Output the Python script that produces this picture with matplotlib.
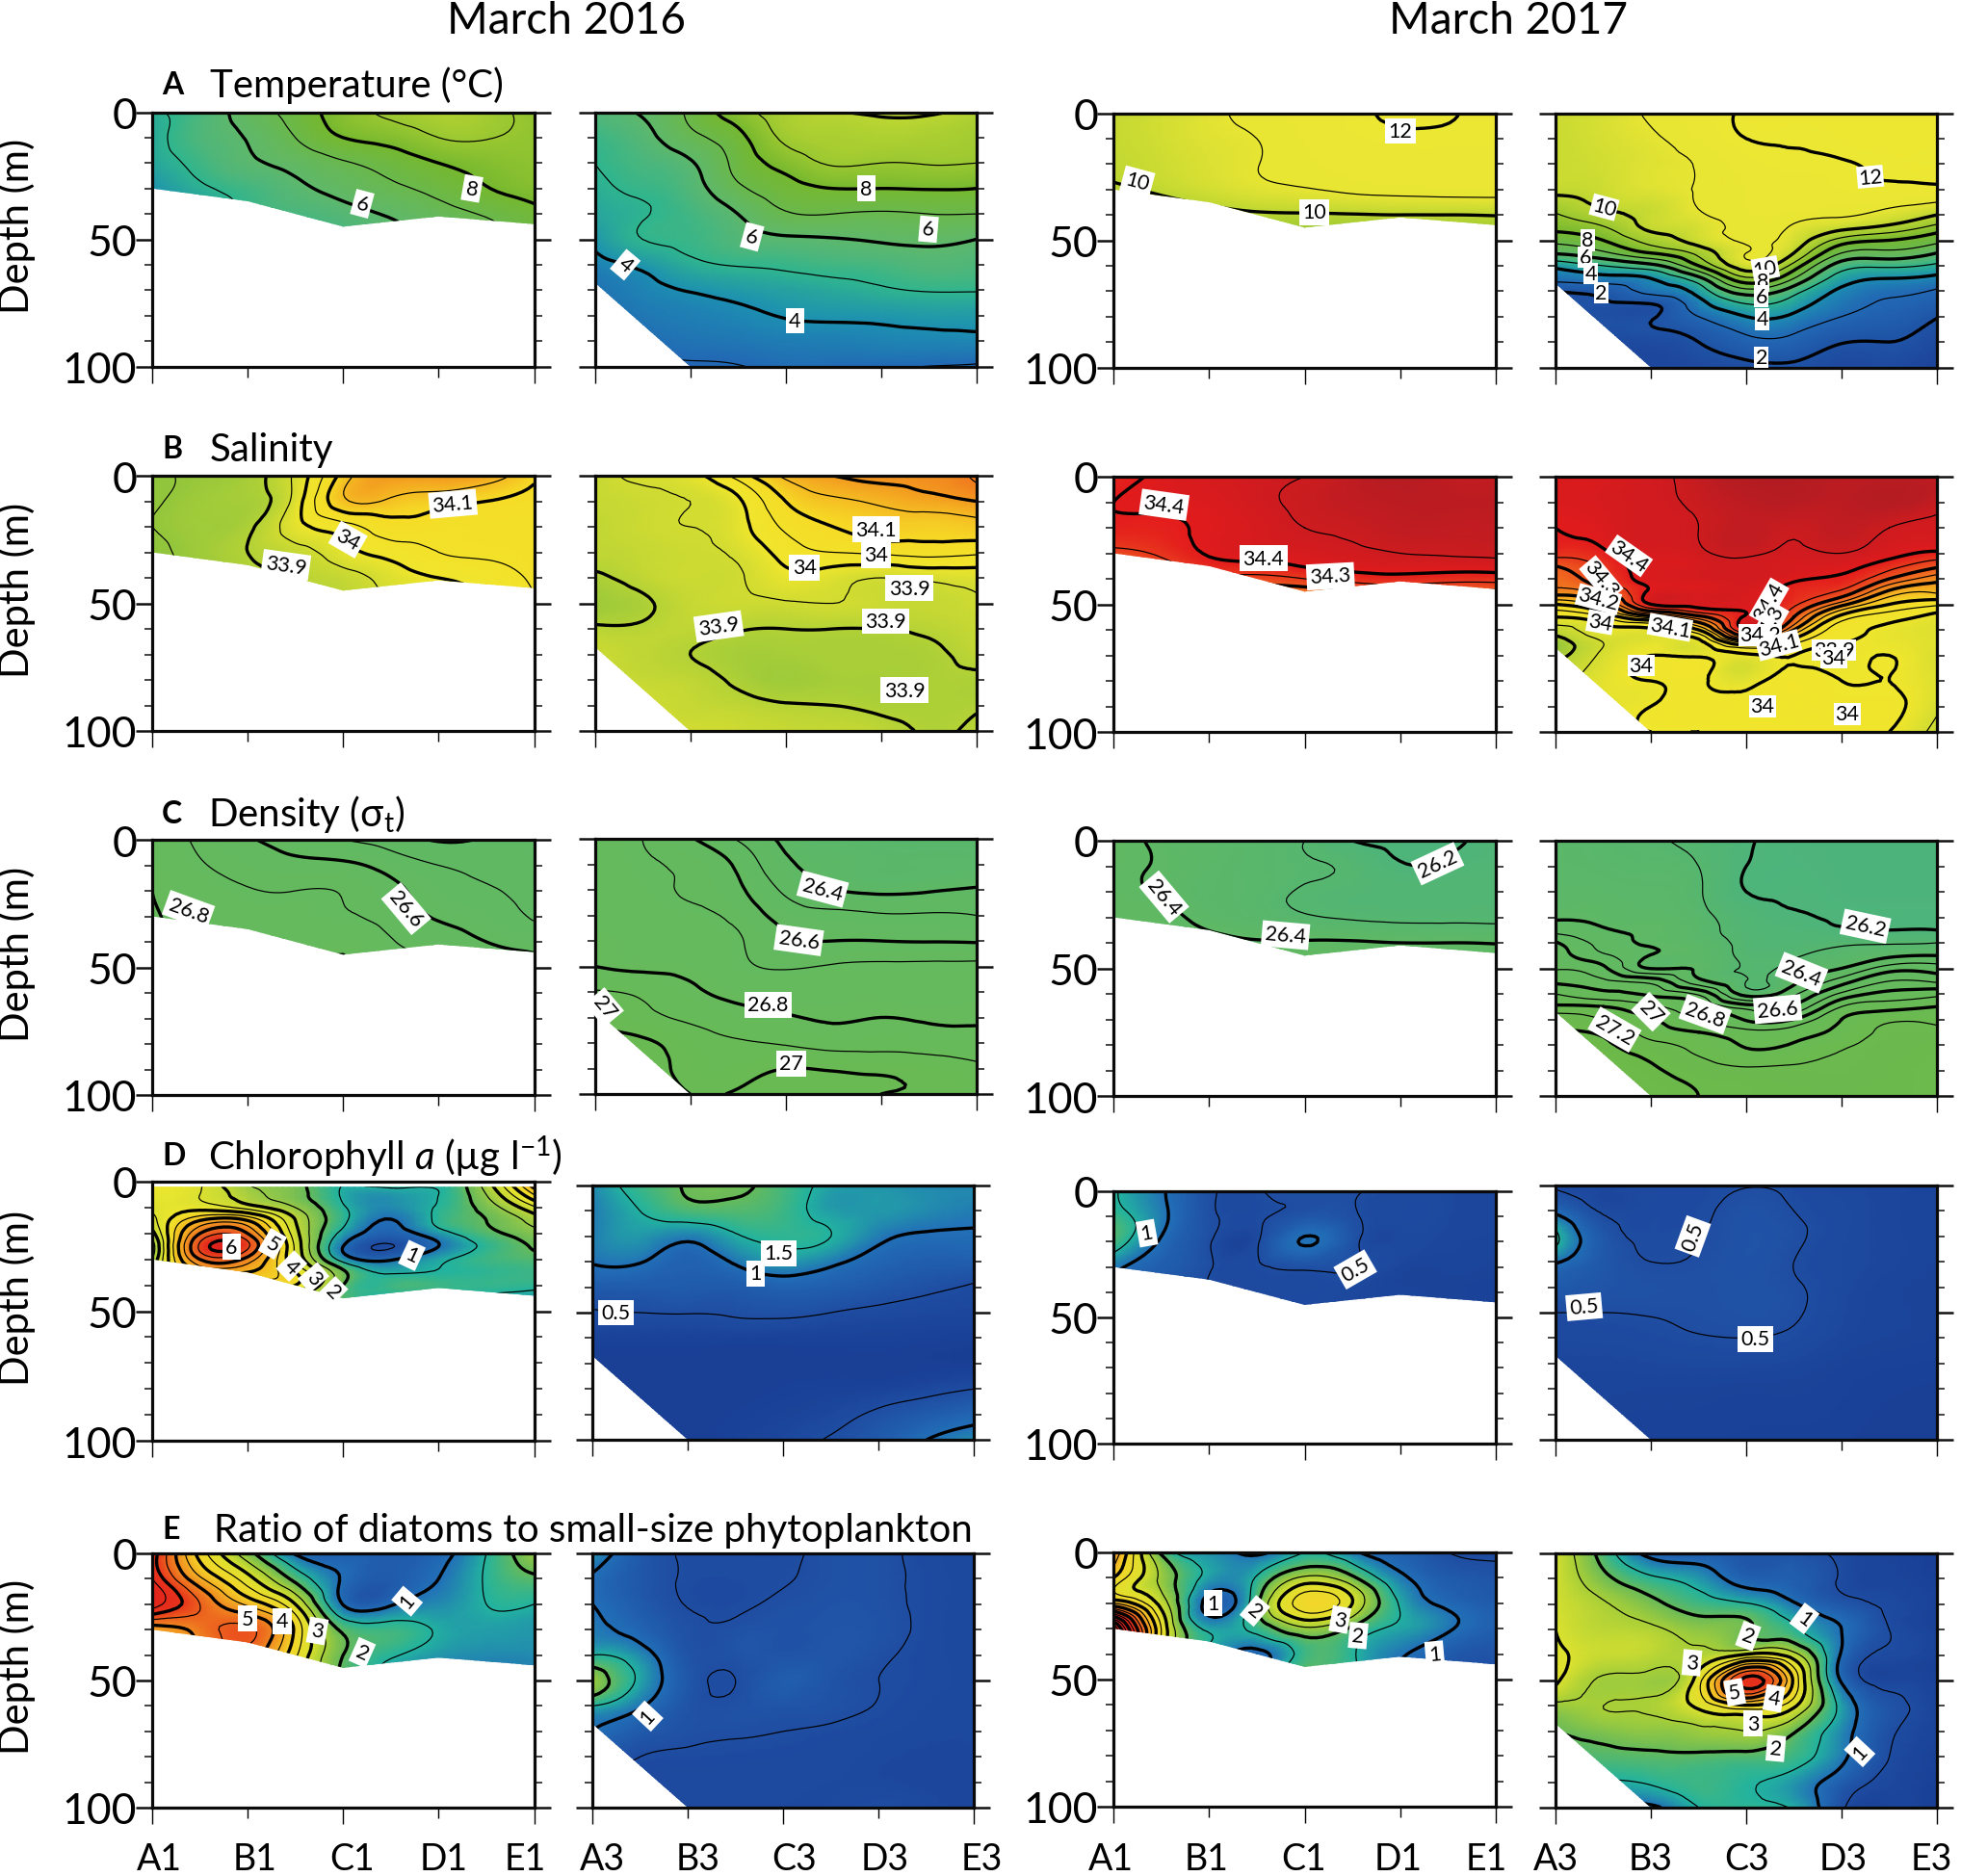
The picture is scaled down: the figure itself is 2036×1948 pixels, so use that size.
import numpy as np
import matplotlib
matplotlib.use('Agg')
from matplotlib import pyplot as plt
from matplotlib import tri as mtri
from matplotlib.colors import LinearSegmentedColormap
from matplotlib.ticker import MultipleLocator, FixedLocator, NullFormatter

plt.rcParams['font.family'] = ['Lato', 'DejaVu Sans']
plt.rcParams['mathtext.fontset'] = 'custom'
plt.rcParams['mathtext.rm'] = 'Lato'
plt.rcParams['mathtext.it'] = 'Lato:italic'
plt.rcParams['mathtext.default'] = 'regular'

W, H = 2036, 1949

stations_x = [0, 0.5, 1, 1.5, 2, 2.5, 3, 3.5, 4]
depth_shallow = [0, 10, 20, 30, 40, 50]
depth_deep = [0, 10, 20, 30, 40, 50, 60, 70, 80, 90, 100]
depth_t17 = [0, 10, 20, 30, 40, 45, 50, 55, 60, 65, 70, 75, 80, 90, 100]
depth_s17 = [0, 10, 20, 30, 35, 40, 45, 50, 55, 60, 65, 70, 80, 90, 100]
depth_d17 = [0, 10, 20, 30, 35, 40, 45, 50, 55, 60, 65, 70, 75, 80, 90, 100]
depth_c16 = [0, 5, 10, 15, 20, 25, 30, 35, 40, 45, 50]

bottom_line1 = [30, 35, 45, 41, 44]
bottom_line3 = [67, 100, 100, 100, 100]

temp_16_1 = [
    [4.9, 5.4, 6.45, 7.4, 8.5, 9.2, 9.6, 9.3, 8.8],
    [4.7, 5.5, 6.05, 7.0, 8.0, 8.4, 9.0, 9.05, 8.8],
    [4.6, 5.25, 5.85, 6.3, 6.9, 7.4, 8.0, 8.4, 8.7],
    [4.1, 4.85, 5.3, 5.8, 6.3, 6.8, 7.3, 7.95, 8.4],
    [3.5, 4.3, 5.1, 5.4, 5.7, 6.1, 6.6, 7.1, 7.7],
    [3.0, 4.0, 4.7, 5.0, 5.3, 5.7, 6.2, 6.7, 7.3],
]
temp_16_3 = [
    [5.6, 6.1, 7.2, 8.6, 9.5, 9.95, 10.1, 10.1, 9.7],
    [5.2, 5.7, 6.7, 7.7, 9.2, 9.5, 9.6, 9.5, 9.3],
    [5.0, 5.4, 5.9, 7.3, 8.4, 9.1, 9.0, 9.05, 9.0],
    [4.8, 5.15, 5.6, 6.8, 7.6, 8.0, 8.0, 8.05, 8.0],
    [4.6, 4.95, 5.3, 6.0, 6.9, 7.0, 6.9, 7.0, 7.0],
    [4.2, 5.0, 5.2, 5.6, 5.85, 5.95, 6.1, 6.2, 6.0],
    [3.7, 4.2, 4.8, 5.05, 5.15, 5.3, 5.4, 5.6, 5.5],
    [3.3, 3.7, 4.05, 4.3, 4.5, 4.7, 4.9, 5.05, 5.05],
    [3.0, 3.4, 3.6, 3.8, 4.05, 4.15, 4.2, 4.3, 4.3],
    [2.8, 3.1, 3.3, 3.4, 3.55, 3.6, 3.7, 3.75, 3.8],
    [2.6, 2.8, 2.9, 2.97, 3.15, 3.1, 3.05, 2.99, 2.9],
]
temp_17_1 = [
    [10.2, 10.5, 10.85, 11.2, 11.5, 11.8, 12.2, 12.05, 11.9],
    [10.2, 10.5, 10.8, 11.0, 11.4, 11.7, 11.85, 11.85, 11.8],
    [10.15, 10.4, 10.7, 10.98, 11.3, 11.5, 11.6, 11.6, 11.6],
    [9.85, 10.15, 10.5, 10.8, 10.95, 11.15, 11.25, 11.3, 11.3],
    [9.0, 9.3, 9.6, 9.85, 9.9, 9.95, 10.0, 10.0, 10.05],
    [8.0, 8.3, 8.5, 8.6, 8.5, 8.7, 8.8, 8.9, 9.0],
]
temp_17_3 = np.array([
    [10.4, 10.3, 10.3, 10.2, 8.9, 8.3, 7.3, 6.1, 4.3, 3.3, 2.0, 1.9, 1.8, 1.6, 1.5],
    [10.6, 10.6, 10.5, 10.4, 9.7, 8.9, 8.0, 6.8, 5.0, 3.6, 2.3, 1.9, 1.8, 1.6, 1.5],
    [11.1, 10.9, 10.8, 10.75, 10.3, 10.2, 9.4, 8.0, 5.7, 4.0, 3.3, 2.0, 1.9, 1.6, 1.4],
    [11.6, 11.4, 11.05, 11.05, 10.9, 10.6, 10.4, 9.3, 8.0, 5.7, 4.4, 3.6, 3.0, 2.0, 1.5],
    [12.1, 12.0, 11.6, 11.4, 11.3, 11.2, 11.1, 11.0, 10.6, 8.8, 6.6, 5.0, 4.0, 2.7, 1.7],
    [12.2, 12.05, 11.85, 11.6, 11.3, 10.9, 10.6, 10.0, 8.6, 7.0, 5.4, 4.5, 3.8, 2.7, 1.8],
    [12.2, 12.15, 11.95, 11.75, 11.1, 10.3, 8.6, 7.0, 5.5, 4.5, 3.8, 3.4, 3.0, 2.05, 1.5],
    [12.2, 12.2, 12.1, 11.8, 10.7, 9.7, 8.0, 6.7, 5.2, 4.0, 3.2, 2.9, 2.6, 2.0, 1.5],
    [12.2, 12.2, 12.1, 11.8, 10.0, 8.6, 7.3, 6.0, 4.8, 3.7, 2.9, 2.5, 2.05, 1.5, 1.2],
]).T

salt_16_1 = [
    [33.84, 33.86, 33.88, 33.96, 34.12, 34.2, 34.2, 34.18, 34.11],
    [33.84, 33.87, 33.88, 33.97, 34.14, 34.14, 34.12, 34.1, 34.08],
    [33.85, 33.87, 33.89, 33.98, 34.03, 34.08, 34.07, 34.07, 34.07],
    [33.83, 33.87, 33.9, 33.93, 33.98, 34.02, 34.05, 34.06, 34.07],
    [33.83, 33.86, 33.89, 33.91, 33.93, 33.97, 34.0, 34.02, 34.06],
    [33.83, 33.86, 33.88, 33.9, 33.92, 33.96, 33.99, 34.0, 34.05],
]
salt_16_3 = [
    [33.93, 33.96, 33.98, 34.07, 34.16, 34.2, 34.22, 34.22, 34.26],
    [33.93, 33.94, 33.95, 33.99, 34.1, 34.14, 34.16, 34.18, 34.2],
    [33.92, 33.94, 33.95, 33.98, 34.06, 34.1, 34.12, 34.12, 34.13],
    [33.92, 33.93, 33.94, 33.96, 34.02, 34.05, 34.06, 34.07, 34.06],
    [33.89, 33.92, 33.94, 33.945, 33.985, 33.97, 33.95, 33.96, 33.97],
    [33.87, 33.89, 33.93, 33.94, 33.945, 33.95, 33.94, 33.93, 33.945],
    [33.91, 33.91, 33.92, 33.905, 33.9, 33.9, 33.9, 33.91, 33.93],
    [33.94, 33.92, 33.9, 33.88, 33.88, 33.885, 33.885, 33.89, 33.92],
    [33.95, 33.93, 33.92, 33.89, 33.87, 33.88, 33.88, 33.89, 33.89],
    [33.96, 33.95, 33.93, 33.92, 33.905, 33.9, 33.89, 33.89, 33.895],
    [33.97, 33.96, 33.95, 33.94, 33.93, 33.93, 33.92, 33.895, 33.91],
]
salt_17_1 = [
    [34.38, 34.41, 34.43, 34.44, 34.45, 34.48, 34.51, 34.48, 34.48],
    [34.4, 34.41, 34.42, 34.44, 34.46, 34.48, 34.49, 34.49, 34.49],
    [34.39, 34.39, 34.41, 34.43, 34.45, 34.46, 34.48, 34.48, 34.48],
    [34.33, 34.36, 34.405, 34.42, 34.43, 34.44, 34.45, 34.455, 34.46],
    [34.22, 34.28, 34.33, 34.33, 34.35, 34.37, 34.38, 34.37, 34.37],
    [34.15, 34.2, 34.22, 34.2, 34.15, 34.2, 34.22, 34.2, 34.2],
]
salt_17_3 = np.array([
    [34.42, 34.42, 34.4, 34.37, 34.3, 34.27, 34.23, 34.1, 34.0, 33.93, 33.86, 33.88, 33.92, 33.95, 33.97],
    [34.42, 34.43, 34.42, 34.39, 34.36, 34.34, 34.28, 34.18, 34.05, 33.98, 33.95, 33.96, 33.98, 33.98, 33.98],
    [34.44, 34.44, 34.44, 34.43, 34.42, 34.42, 34.41, 34.4, 34.17, 33.99, 33.98, 34.0, 34.0, 34.0, 34.0],
    [34.47, 34.46, 34.45, 34.44, 34.43, 34.43, 34.42, 34.42, 34.28, 34.1, 33.98, 33.99, 34.01, 34.02, 34.0],
    [34.52, 34.49, 34.48, 34.46, 34.44, 34.44, 34.43, 34.42, 34.41, 34.4, 34.15, 33.99, 33.98, 34.01, 34.02],
    [34.52, 34.5, 34.46, 34.44, 34.43, 34.41, 34.38, 34.36, 34.3, 34.2, 34.06, 34.0, 34.02, 34.01, 34.03],
    [34.49, 34.49, 34.48, 34.45, 34.42, 34.39, 34.34, 34.22, 34.08, 34.02, 34.0, 33.99, 34.0, 34.01, 34.02],
    [34.49, 34.51, 34.45, 34.42, 34.37, 34.3, 34.19, 34.1, 34.02, 33.99, 33.99, 34.0, 34.0, 34.01, 34.0],
    [34.48, 34.47, 34.44, 34.39, 34.31, 34.22, 34.16, 34.06, 33.98, 33.97, 33.97, 33.96, 33.97, 33.96, 33.93],
]).T

dens_16_1 = [
    [26.78, 26.68, 26.61, 26.56, 26.5, 26.46, 26.39, 26.41, 26.42],
    [26.79, 26.71, 26.66, 26.63, 26.62, 26.56, 26.5, 26.47, 26.44],
    [26.8, 26.74, 26.705, 26.7, 26.695, 26.63, 26.55, 26.51, 26.47],
    [26.81, 26.76, 26.73, 26.72, 26.71, 26.66, 26.59, 26.55, 26.49],
    [26.82, 26.78, 26.76, 26.74, 26.78, 26.71, 26.65, 26.6, 26.57],
    [26.84, 26.8, 26.78, 26.76, 26.81, 26.76, 26.7, 26.65, 26.62],
]
dens_16_3 = [
    [26.72, 26.7, 26.61, 26.49, 26.38, 26.34, 26.32, 26.32, 26.32],
    [26.73, 26.71, 26.68, 26.58, 26.42, 26.37, 26.35, 26.35, 26.35],
    [26.74, 26.72, 26.69, 26.62, 26.48, 26.4, 26.38, 26.39, 26.41],
    [26.76, 26.74, 26.72, 26.67, 26.56, 26.53, 26.51, 26.51, 26.5],
    [26.78, 26.76, 26.74, 26.71, 26.62, 26.6, 26.6, 26.595, 26.59],
    [26.8, 26.78, 26.77, 26.72, 26.69, 26.71, 26.72, 26.72, 26.72],
    [26.91, 26.88, 26.82, 26.77, 26.75, 26.76, 26.76, 26.75, 26.76],
    [26.99, 26.93, 26.88, 26.84, 26.81, 26.79, 26.8, 26.79, 26.79],
    [27.05, 27.02, 26.95, 26.91, 26.89, 26.86, 26.86, 26.85, 26.84],
    [27.1, 27.05, 26.97, 26.96, 27.0, 26.99, 26.98, 26.96, 26.92],
    [27.12, 27.08, 27.0, 27.01, 27.03, 27.02, 27.0, 26.99, 26.96],
]
dens_17_1 = [
    [26.45, 26.38, 26.36, 26.33, 26.3, 26.2, 26.18, 26.18, 26.23],
    [26.44, 26.39, 26.36, 26.33, 26.31, 26.28, 26.21, 26.22, 26.24],
    [26.43, 26.39, 26.35, 26.33, 26.29, 26.27, 26.26, 26.26, 26.26],
    [26.5, 26.44, 26.37, 26.34, 26.31, 26.29, 26.28, 26.28, 26.28],
    [26.52, 26.47, 26.43, 26.41, 26.41, 26.41, 26.4, 26.4, 26.395],
    [26.55, 26.52, 26.5, 26.49, 26.48, 26.47, 26.46, 26.46, 26.46],
]
dens_17_3 = np.array([
    [26.35, 26.35, 26.36, 26.39, 26.46, 26.61, 26.65, 26.69, 26.78, 26.9, 27.02, 27.15, 27.22, 27.25, 27.28, 27.3],
    [26.33, 26.34, 26.36, 26.38, 26.41, 26.46, 26.52, 26.62, 26.72, 26.83, 27.0, 27.1, 27.18, 27.22, 27.27, 27.3],
    [26.31, 26.33, 26.35, 26.37, 26.39, 26.39, 26.395, 26.395, 26.66, 26.78, 26.92, 27.01, 27.06, 27.13, 27.22, 27.27],
    [26.27, 26.3, 26.31, 26.33, 26.34, 26.36, 26.37, 26.385, 26.43, 26.68, 26.8, 26.9, 27.0, 27.07, 27.15, 27.2],
    [26.21, 26.2, 26.2, 26.25, 26.26, 26.27, 26.28, 26.29, 26.3, 26.36, 26.65, 26.79, 26.93, 26.99, 27.12, 27.17],
    [26.17, 26.18, 26.19, 26.21, 26.23, 26.25, 26.29, 26.33, 26.38, 26.48, 26.62, 26.8, 26.95, 27.01, 27.12, 27.16],
    [26.16, 26.16, 26.17, 26.19, 26.21, 26.28, 26.33, 26.4, 26.55, 26.72, 26.9, 27.0, 27.03, 27.08, 27.12, 27.16],
    [26.15, 26.15, 26.16, 26.18, 26.2, 26.29, 26.38, 26.55, 26.7, 26.83, 26.96, 27.08, 27.12, 27.13, 27.15, 27.16],
    [26.15, 26.15, 26.16, 26.18, 26.2, 26.3, 26.4, 26.55, 26.68, 26.87, 27.0, 27.08, 27.12, 27.16, 27.17, 27.18],
]).T

chl_16_1 = [
    [4.0, 3.6, 2.4, 2.1, 1.5, 1.8, 1.6, 2.8, 5.5],
    [3.8, 3.5, 2.7, 2.2, 1.45, 1.3, 1.5, 2.5, 4.5],
    [3.6, 3.8, 3.3, 2.5, 1.55, 1.2, 1.55, 2.2, 3.4],
    [3.3, 5.0, 5.0, 3.0, 1.6, 0.98, 1.6, 2.0, 2.7],
    [2.8, 6.0, 6.0, 3.2, 1.35, 0.8, 1.3, 1.85, 2.3],
    [2.2, 6.6, 6.6, 3.4, 1.0, 0.48, 1.0, 1.6, 2.05],
    [2.5, 6.0, 5.8, 3.5, 1.3, 0.95, 1.4, 1.7, 1.85],
    [3.0, 4.9, 5.0, 4.0, 2.1, 1.45, 1.52, 1.6, 1.7],
    [3.0, 3.5, 4.0, 4.0, 2.0, 1.7, 1.7, 1.65, 1.6],
    [3.0, 3.5, 3.5, 3.0, 1.9, 1.45, 1.45, 1.4, 1.35],
    [3.0, 3.5, 3.5, 3.0, 1.9, 1.45, 1.45, 1.4, 1.35],
]
chl_16_3 = [
    [1.2, 1.7, 2.05, 2.1, 1.75, 1.4, 1.3, 1.2, 1.2],
    [1.1, 1.5, 1.8, 1.85, 1.7, 1.35, 1.3, 1.2, 1.1],
    [1.1, 1.3, 1.12, 1.45, 1.6, 1.5, 1.1, 0.95, 0.95],
    [1.02, 1.02, 0.8, 1.05, 1.3, 1.1, 0.85, 0.75, 0.75],
    [0.7, 0.7, 0.7, 0.7, 0.8, 0.75, 0.65, 0.55, 0.47],
    [0.48, 0.5, 0.51, 0.53, 0.55, 0.5, 0.45, 0.42, 0.4],
    [0.35, 0.35, 0.35, 0.35, 0.35, 0.35, 0.35, 0.33, 0.32],
    [0.3, 0.3, 0.3, 0.3, 0.3, 0.3, 0.3, 0.3, 0.3],
    [0.3, 0.3, 0.3, 0.3, 0.32, 0.34, 0.36, 0.42, 0.5],
    [0.3, 0.3, 0.3, 0.32, 0.36, 0.42, 0.55, 0.7, 0.85],
    [0.3, 0.3, 0.3, 0.34, 0.42, 0.52, 0.7, 1.0, 1.2],
]
chl_17_1 = [
    [1.55, 1.05, 0.55, 0.48, 0.55, 0.52, 0.45, 0.42, 0.4],
    [1.7, 1.1, 0.55, 0.47, 0.62, 0.53, 0.45, 0.42, 0.4],
    [1.8, 0.95, 0.52, 0.47, 1.03, 0.58, 0.42, 0.4, 0.38],
    [1.1, 0.75, 0.52, 0.47, 0.55, 0.52, 0.4, 0.38, 0.36],
    [1.0, 0.7, 0.5, 0.45, 0.45, 0.42, 0.38, 0.36, 0.35],
    [1.0, 0.7, 0.5, 0.42, 0.4, 0.4, 0.38, 0.36, 0.35],
]
chl_17_3 = [
    [0.45, 0.45, 0.45, 0.46, 0.49, 0.47, 0.42, 0.4, 0.38],
    [0.9, 0.47, 0.46, 0.47, 0.56, 0.5, 0.44, 0.4, 0.38],
    [1.6, 0.65, 0.47, 0.49, 0.58, 0.53, 0.44, 0.4, 0.38],
    [1.05, 0.65, 0.5, 0.52, 0.58, 0.5, 0.43, 0.4, 0.37],
    [0.7, 0.6, 0.55, 0.54, 0.56, 0.52, 0.43, 0.38, 0.36],
    [0.5, 0.5, 0.51, 0.53, 0.55, 0.52, 0.42, 0.38, 0.36],
    [0.43, 0.44, 0.46, 0.49, 0.5, 0.47, 0.4, 0.37, 0.35],
    [0.4, 0.4, 0.41, 0.42, 0.42, 0.4, 0.36, 0.34, 0.33],
    [0.38, 0.38, 0.37, 0.37, 0.36, 0.36, 0.34, 0.32, 0.31],
    [0.36, 0.36, 0.35, 0.35, 0.34, 0.34, 0.33, 0.31, 0.3],
    [0.35, 0.35, 0.34, 0.34, 0.33, 0.33, 0.32, 0.3, 0.3],
]

ratio_16_1 = [
    [6.3, 3.8, 2.2, 0.95, 0.75, 0.7, 0.85, 1.5, 2.4],
    [6.5, 4.6, 3.2, 1.85, 0.95, 0.7, 1.0, 1.55, 1.9],
    [6.8, 5.5, 4.4, 3.0, 0.98, 0.95, 1.2, 1.5, 1.5],
    [4.7, 5.2, 5.6, 3.9, 1.9, 1.7, 1.45, 1.35, 1.3],
    [4.4, 5.0, 5.3, 3.6, 2.0, 1.55, 1.3, 1.2, 1.2],
    [3.8, 4.5, 5.0, 3.2, 1.9, 1.4, 1.2, 1.1, 1.1],
]
ratio_16_3 = [
    [1.3, 0.7, 0.48, 0.47, 0.47, 0.55, 0.55, 0.45, 0.42],
    [0.95, 0.65, 0.48, 0.47, 0.49, 0.55, 0.55, 0.46, 0.42],
    [1.0, 0.7, 0.49, 0.47, 0.53, 0.58, 0.56, 0.46, 0.42],
    [1.1, 0.85, 0.55, 0.55, 0.58, 0.6, 0.58, 0.46, 0.42],
    [1.5, 1.2, 0.6, 0.58, 0.6, 0.62, 0.54, 0.45, 0.42],
    [2.4, 1.4, 0.65, 0.5, 0.72, 0.6, 0.5, 0.45, 0.42],
    [1.5, 1.05, 0.6, 0.55, 0.6, 0.56, 0.49, 0.43, 0.42],
    [1.0, 0.7, 0.55, 0.52, 0.5, 0.47, 0.44, 0.42, 0.42],
    [0.7, 0.5, 0.47, 0.46, 0.45, 0.44, 0.42, 0.4, 0.4],
    [0.5, 0.45, 0.44, 0.44, 0.44, 0.43, 0.42, 0.4, 0.4],
    [0.45, 0.44, 0.43, 0.43, 0.43, 0.44, 0.5, 0.44, 0.4],
]
ratio_17_1 = [
    [5.0, 1.9, 1.25, 0.9, 1.5, 1.1, 0.8, 0.5, 0.45],
    [4.0, 2.4, 1.35, 1.55, 2.6, 2.1, 1.1, 0.7, 0.6],
    [4.5, 2.8, 0.85, 1.9, 3.8, 3.0, 1.45, 0.9, 0.7],
    [9.0, 3.5, 1.4, 1.65, 2.4, 1.9, 1.4, 1.05, 0.75],
    [9.0, 3.0, 1.3, 0.85, 1.7, 1.55, 1.05, 0.7, 0.6],
    [8.0, 2.5, 1.1, 0.7, 2.5, 1.4, 0.95, 0.65, 0.55],
]
ratio_17_3 = [
    [2.9, 1.8, 0.85, 0.7, 0.65, 0.6, 0.45, 0.35, 0.3],
    [2.9, 2.15, 1.6, 1.3, 0.8, 0.75, 0.47, 0.38, 0.32],
    [2.9, 2.55, 2.15, 1.75, 1.55, 1.05, 0.65, 0.45, 0.35],
    [3.0, 2.7, 2.6, 2.3, 2.05, 1.6, 1.0, 0.5, 0.35],
    [3.1, 2.8, 2.7, 2.6, 3.1, 2.7, 0.95, 0.45, 0.35],
    [3.1, 2.45, 2.4, 3.3, 6.2, 3.9, 0.95, 0.4, 0.35],
    [2.4, 2.5, 2.55, 3.1, 3.9, 3.1, 1.35, 0.6, 0.38],
    [2.0, 2.2, 2.3, 2.4, 2.5, 2.05, 1.2, 0.55, 0.38],
    [1.8, 1.85, 1.9, 1.9, 1.85, 1.7, 1.1, 0.5, 0.35],
    [1.3, 1.45, 1.55, 1.7, 1.55, 1.3, 0.75, 0.42, 0.32],
    [0.9, 0.95, 0.9, 1.5, 1.6, 1.45, 0.55, 0.38, 0.3],
]

# contour labels: text, x, depth, rotation
lab_temp = [
    [('6', 2.2, 36, -15), ('8', 3.35, 30, -10)],
    [('8', 2.85, 30, 0), ('6', 1.65, 49, -15), ('6', 3.5, 46, -5), ('4', 0.32, 60, -40), ('4', 2.1, 82, 0)],
    [('12', 3.0, 7, 0), ('10', 0.25, 27, -15), ('10', 2.1, 39, 0)],
    [('12', 3.3, 25, 5), ('10', 0.51, 37, -15), ('8', 0.34, 50, 0), ('6', 0.31, 56.6, 0), ('4', 0.37, 63, 0),
     ('2', 0.48, 70.7, 0), ('10', 2.2, 61, 10), ('8', 2.17, 66, 0), ('6', 2.16, 72, 0), ('4', 2.17, 81, 0),
     ('2', 2.16, 96, 0)],
]
lab_salt = [
    [('34.1', 3.15, 11, 5), ('34', 2.05, 25, -30), ('33.9', 1.4, 35, -8)],
    [('34.1', 2.95, 21, 0), ('34', 2.95, 31, 0), ('34', 2.2, 36, 0), ('33.9', 3.3, 44, 0), ('33.9', 3.05, 57, 0),
     ('33.9', 1.3, 59, 8), ('33.9', 3.25, 84, 0)],
    [('34.4', 0.53, 11, -8), ('34.4', 1.57, 32, 0), ('34.3', 2.27, 39, 3)],
    [('34.4', 0.77, 31, -35), ('34.3', 0.48, 40, -50), ('34.2', 0.45, 48, -15), ('34', 0.47, 57, -10),
     ('34.1', 1.2, 59, -10), ('34.4', 2.24, 49, 60), ('34.3', 2.24, 58, 60), ('34.2', 2.15, 62, 0),
     ('34.1', 2.34, 66, 15), ('34', 0.9, 74, 0), ('33.9', 2.92, 68, 0), ('34', 2.92, 71, 0), ('34', 2.17, 90, 0),
     ('34', 3.06, 93, 0)],
]
lab_dens = [
    [('26.8', 0.38, 27.6, -20), ('26.6', 2.66, 27, -50)],
    [('26.4', 2.39, 19.7, -15), ('26.6', 2.14, 39.7, -8), ('26.8', 1.82, 65, 0), ('27', 2.06, 88, 0), ('27', 0.1, 66, -50)],
    [('26.4', 0.53, 22, -50), ('26.4', 1.8, 37, -5), ('26.2', 3.39, 9, 25)],
    [('26.2', 3.25, 33.5, -12), ('26.4', 2.58, 51.7, -22), ('26.6', 2.33, 66, 5), ('26.8', 1.57, 68, -20),
     ('27', 1.0, 67, -45), ('27.2', 0.62, 74, -30)],
]
lab_chl = [
    [('6', 0.83, 25.2, 0), ('5', 1.26, 24, -30), ('4', 1.46, 32.6, -45), ('3', 1.69, 37, -50), ('2', 1.89, 42.5, -45),
     ('1', 2.72, 28.5, -25)],
    [('1.5', 1.95, 26.6, 0), ('1', 1.71, 34.6, 0), ('0.5', 0.25, 50, 0)],
    [('1', 0.35, 16.6, 10), ('0.5', 2.53, 31, 30)],
    [('0.5', 1.44, 20, 70), ('0.5', 0.3, 47.7, 5), ('0.5', 2.1, 60.4, 0)],
]
lab_ratio = [
    [('5', 1.0, 25.7, 0), ('4', 1.36, 26.7, 0), ('3', 1.73, 30.5, -10), ('2', 2.2, 39, -24), ('1', 2.67, 18.8, 50)],
    [('1', 0.58, 64, 47)],
    [('1', 1.04, 20, 0), ('2', 1.48, 23, -40), ('3', 2.37, 26.4, -10), ('2', 2.56, 32.7, -5), ('1', 3.36, 40, 5)],
    [('1', 2.61, 25.6, -37), ('2', 2.02, 32.5, -20), ('3', 1.43, 43, -5), ('5', 1.88, 54.6, 10), ('4', 2.29, 57, -10),
     ('3', 2.07, 67, 0), ('2', 2.31, 76.7, -5), ('1', 3.19, 78, 47)],
]

station_names1 = ['A1', 'B1', 'C1', 'D1', 'E1']
station_names3 = ['A3', 'B3', 'C3', 'D3', 'E3']
name_px = [
    [165, 265, 366, 461, 545],
    [625, 725, 825, 919, 1019],
    [1153, 1253, 1354, 1452, 1543],
    [1615, 1714, 1814, 1914, 2005],
]

# left, top, right, bottom of each panel in pixels
boxes = [
    [(158, 117.5, 554.5, 381.5), (617.5, 117.5, 1013.5, 381.5), (1156, 118.5, 1553, 382.5), (1615, 118.5, 2011, 382.5)],
    [(158, 495, 554.5, 760), (617.5, 495, 1013.5, 760), (1156, 496, 1553, 761), (1615, 496, 2011, 761)],
    [(158, 873, 554.5, 1138), (617.5, 872, 1013.5, 1137), (1156, 874, 1553, 1139), (1615, 874, 2011, 1139)],
    [(158, 1228, 554.5, 1497), (615, 1232, 1011.5, 1496), (1156, 1238, 1553, 1500), (1615, 1232, 2011, 1496)],
    [(158, 1614, 554.5, 1878), (615, 1614, 1011.5, 1878), (1156, 1613, 1553, 1877), (1615, 1614, 2011, 1878)],
]


def make_cmap(anchors):
    lo, hi = anchors[0][0], anchors[-1][0]
    stops = [((v - lo) / (hi - lo), c) for v, c in anchors]
    return LinearSegmentedColormap.from_list('sec', stops, N=512), lo, hi


cm_temp = make_cmap([(1, '#1c3f97'), (3, '#2268b4'), (4, '#1d8fb2'), (5, '#2fb58f'), (5.5, '#4fb67a'), (6, '#5fb86b'),
                     (8, '#76b82f'), (10, '#bcd632'), (11, '#e8e533'), (12, '#ece733'), (14, '#f4ea2a')])
cm_salt = make_cmap([(33.75, '#7cbc3c'), (33.85, '#93c63c'), (33.9, '#b4d236'), (34.0, '#f0e62d'), (34.1, '#f6dc26'),
                     (34.2, '#f39a1f'), (34.3, '#ee5a1f'), (34.4, '#e31b1c'), (34.5, '#b81c22'), (34.6, '#a31d24')])
cm_dens = make_cmap([(26.0, '#45b07f'), (26.2, '#4eb47a'), (26.4, '#5fb864'), (26.8, '#66ba5c'), (27.4, '#6fb943')])
cm_chl = make_cmap([(0.2, '#16398f'), (0.5, '#1f4ea3'), (1, '#2270b8'), (1.5, '#22b3a0'), (2, '#68ba5a'),
                    (3, '#c6d935'), (4, '#f0e82d'), (5, '#f5b81f'), (6, '#ee7622'), (7, '#e2231c'), (10, '#8f1a1a')])
cm_ratio = make_cmap([(0.2, '#16398f'), (0.5, '#1f4ea3'), (1, '#2270b8'), (1.5, '#22b3a0'), (2, '#68ba5a'),
                      (2.5, '#a8cf38'), (3, '#dde22f'), (4, '#f5d528'), (5, '#f08a20'), (6, '#e8341c'),
                      (7, '#e2231c'), (10, '#8f1a1a')])

variables = [
    (cm_temp, np.arange(2, 14, 2), np.arange(1, 13, 2), lab_temp,
     [temp_16_1, temp_16_3, temp_17_1, temp_17_3], [depth_shallow, depth_deep, depth_shallow, depth_t17]),
    (cm_salt, np.arange(33.8, 34.45, 0.1), np.arange(33.85, 34.55, 0.1), lab_salt,
     [salt_16_1, salt_16_3, salt_17_1, salt_17_3], [depth_shallow, depth_deep, depth_shallow, depth_s17]),
    (cm_dens, np.arange(26.2, 27.3, 0.2), np.arange(26.1, 27.4, 0.2), lab_dens,
     [dens_16_1, dens_16_3, dens_17_1, dens_17_3], [depth_shallow, depth_deep, depth_shallow, depth_d17]),
    (cm_chl, np.arange(1, 8), np.arange(0.5, 7.5), lab_chl,
     [chl_16_1, chl_16_3, chl_17_1, chl_17_3], [depth_c16, depth_deep, depth_shallow, depth_deep]),
    (cm_ratio, np.arange(1, 10), np.arange(0.5, 9.5), lab_ratio,
     [ratio_16_1, ratio_16_3, ratio_17_1, ratio_17_3], [depth_shallow, depth_deep, depth_shallow, depth_deep]),
]


def build_triangles(nx, ny):
    tris = []
    for j in range(ny - 1):
        for i in range(nx - 1):
            a = j * nx + i
            tris.append([a, a + 1, a + nx])
            tris.append([a + 1, a + nx + 1, a + nx])
    return tris


def draw_section(ax, values, depths, bottom, cm, thick, thin, top=0):
    values = np.array(values, dtype=float)
    xx, dd = np.meshgrid(stations_x, depths)
    tr = mtri.Triangulation(xx.ravel(), np.array(dd.ravel(), dtype=float),
                            build_triangles(len(stations_x), len(depths)))
    refiner = mtri.UniformTriRefiner(tr)
    tr2, z2 = refiner.refine_field(values.ravel(), subdiv=3)

    verts = [(0, top)] + [(i, b) for i, b in enumerate(bottom)] + [(4, top)]
    clip = plt.Polygon(verts, closed=True, transform=ax.transData)

    cmap, lo, hi = cm
    im = ax.tripcolor(tr2, z2, shading='gouraud', cmap=cmap, vmin=lo, vmax=hi, zorder=1)
    im.set_clip_path(clip)
    c1 = ax.tricontour(tr2, z2, levels=thin, colors='k', linewidths=0.85, linestyles='solid', zorder=2)
    c1.set_clip_path(clip)
    c2 = ax.tricontour(tr2, z2, levels=thick, colors='k', linewidths=2.4, linestyles='solid', zorder=2)
    c2.set_clip_path(clip)


fig = plt.figure(figsize=(W / 100, H / 100), dpi=100)

for r, (cm, thick, thin, labs, grids, depth_lists) in enumerate(variables):
    for c in range(4):
        l, t, rr, b = boxes[r][c]
        ax = fig.add_axes([l / W, 1 - b / H, (rr - l) / W, (b - t) / H])
        ax.patch.set_alpha(0)
        bottom = bottom_line1 if c % 2 == 0 else bottom_line3
        top = 2 if (r == 3 and c == 0) else 0
        draw_section(ax, grids[c], depth_lists[c], bottom, cm, thick, thin, top)
        ax.set_xlim(0, 4)
        ax.set_ylim(100, 0)
        for s in ax.spines.values():
            s.set_linewidth(2.3)
            s.set_color('#0a0a0a')
        ax.set_yticks([0, 50, 100])
        ax.yaxis.set_minor_locator(MultipleLocator(10))
        ax.tick_params(axis='y', which='major', left=True, right=True, length=12.5, width=1.8, color='#111111')
        ax.tick_params(axis='y', which='minor', left=True, right=True, length=6, width=1.1, color='#111111')
        ax.xaxis.set_major_locator(FixedLocator([0, 2, 4]))
        ax.xaxis.set_minor_locator(FixedLocator([1, 3]))
        ax.xaxis.set_major_formatter(NullFormatter())
        ax.tick_params(axis='x', which='major', bottom=True, length=12, width=1.0)
        ax.tick_params(axis='x', which='minor', bottom=True, length=8, width=1.0)
        if c % 2 == 0:
            ax.tick_params(axis='y', which='major', labelsize=32, pad=-1)
        else:
            ax.tick_params(axis='y', which='major', labelleft=False)

        lab_pad = 1 if len(labs[c]) >= 10 else 2.5
        for txt, x, d, rot in labs[c]:
            ax.text(x, d, txt, fontsize=15.5, rotation=rot, ha='center', va='center', zorder=6,
                    bbox=dict(fc='white', ec='none', pad=lab_pad))

        if c == 0:
            fig.text(17 / W, 1 - ((t + b) / 2 - 15) / H, 'Depth (m)', rotation=90, fontsize=30, ha='center', va='center')
        if r == 4:
            names = station_names1 if c % 2 == 0 else station_names3
            for name, px in zip(names, name_px[c]):
                fig.text(px / W, 1 - 1931 / H, name, fontsize=27, ha='center', va='center')

fig.text(588 / W, 1 - 22 / H, 'March 2016', fontsize=33, ha='center', va='center')
fig.text(1566 / W, 1 - 22 / H, 'March 2017', fontsize=33, ha='center', va='center')

row_titles = [
    ('A', 'Temperature (°C)', 89, 218),
    ('B', 'Salinity', 467, 218),
    ('C', 'Density (σ$_{t}$)', 846, 216),
    ('D', 'Chlorophyll $\\mathit{a}$ (µg l$^{-1}$)', 1201, 216),
    ('E', 'Ratio of diatoms to small-size phytoplankton', 1589, 222),
]
for letter, title, y, x in row_titles:
    fig.text(168 / W, 1 - y / H, letter, fontsize=23, fontweight='bold', ha='left', va='center')
    fig.text(x / W, 1 - y / H, title, fontsize=29, ha='left', va='center')

fig.savefig('out.png', dpi=100)
